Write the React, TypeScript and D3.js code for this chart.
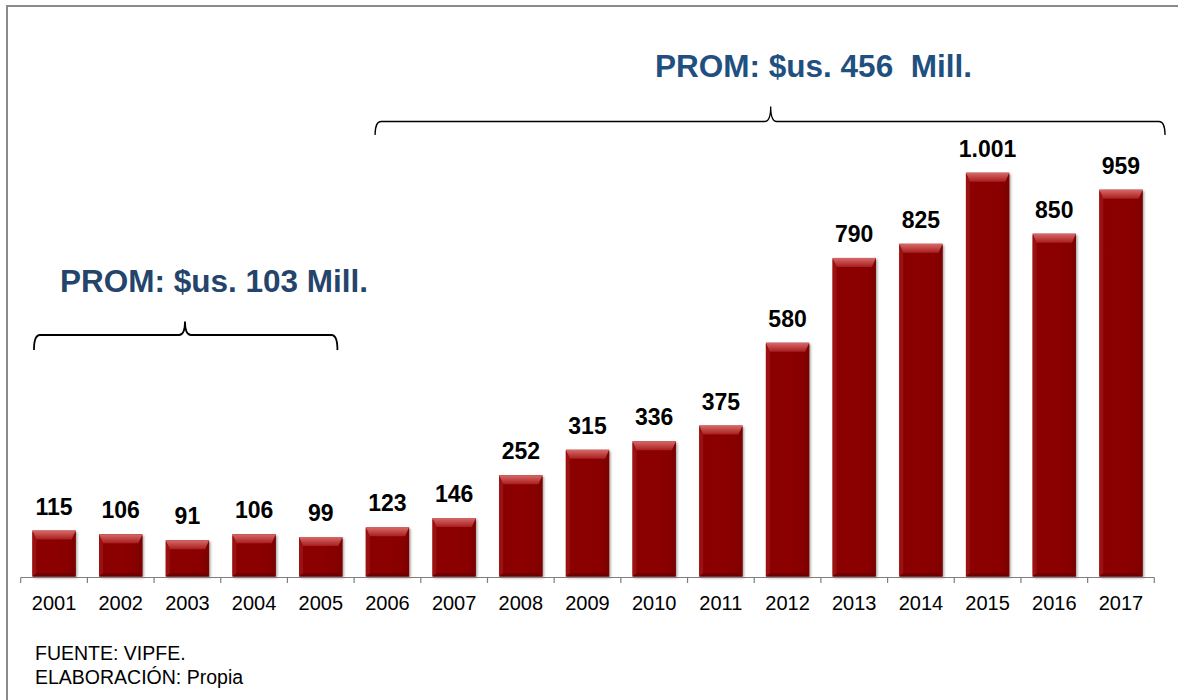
import React from "react";
import * as d3 from "d3";

const years = ["2001","2002","2003","2004","2005","2006","2007","2008","2009","2010","2011","2012","2013","2014","2015","2016","2017"];
const values = [115,106,91,106,99,123,146,252,315,336,375,580,790,825,1001,850,959];
const valueLabels = ["115","106","91","106","99","123","146","252","315","336","375","580","790","825","1.001","850","959"];
const avgLabels = ["PROM: $us. 103 Mill.", "PROM: $us. 456  Mill."];
const avgRanges = [["2001","2005"],["2006","2017"]];
const notes = ["FUENTE: VIPFE.", "ELABORACIÓN: Propia"];

const W = 1178, H = 700;

function bracePath(x1: number, x2: number, yH: number, yEnd: number, yTip: number, xm: number) {
  const r = 6;
  return `M${x1},${yEnd} Q${x1},${yH} ${x1 + r},${yH} L${xm - r},${yH} Q${xm},${yH} ${xm},${yTip} Q${xm},${yH} ${xm + r},${yH} L${x2 - r},${yH} Q${x2},${yH} ${x2},${yEnd}`;
}

export default function App() {
  const x = d3.scaleBand<string>().domain(years).range([20.7, 1154.3]).paddingInner(0.35).paddingOuter(0.175);
  const xb = d3.scaleBand<string>().domain(years).range([20.7, 1154.3]);
  const y = d3.scaleLinear().domain([0, 1001]).range([577, 172.7]);
  const font = "Liberation Sans, Arial, sans-serif";

  const b1 = avgRanges[0], b2 = avgRanges[1];
  const br1x1 = x(b1[0])! + 1.6, br1x2 = x(b1[1])! + x.bandwidth() - 5;
  const br2x1 = x(b2[0])! + 9.3, br2x2 = x(b2[1])! + x.bandwidth() + 22.4;

  return (
    <div style={{ position: "absolute", left: 0, top: 0 }}>
      <svg width={W} height={H} style={{ display: "block", background: "#fff" }}>
        <defs>
          <linearGradient id="topBev" x1="0" y1="0" x2="0" y2="1">
            <stop offset="0%" stopColor="#d86a6a" />
            <stop offset="100%" stopColor="#a81e1e" />
          </linearGradient>
          <linearGradient id="face" x1="0" y1="0" x2="1" y2="0">
            <stop offset="0%" stopColor="#8a0606" />
            <stop offset="50%" stopColor="#8c0303" />
            <stop offset="100%" stopColor="#850404" />
          </linearGradient>
          <filter id="sh" x="-20%" y="-5%" width="140%" height="115%">
            <feDropShadow dx="1.5" dy="1.5" stdDeviation="1.2" floodColor="#000" floodOpacity="0.35" />
          </filter>
        </defs>
        <rect x={7} y={6} width={W + 20} height={H + 20} fill="none" stroke="#8a8a8a" strokeWidth={2} />

        {years.map((yr, i) => {
          const bx = x(yr)!, bw = x.bandwidth();
          const top = y(values[i]), bot = y(0) - 0.5;
          const h = bot - top;
          const b = Math.min(9, h / 3);
          const s = 4;
          return (
            <g key={yr}>
              <rect x={bx} y={top} width={bw} height={h} fill="url(#face)" filter="url(#sh)" />
              <polygon points={`${bx},${top + 1} ${bx + s},${top + b} ${bx + s},${bot - 3} ${bx},${bot}`} fill="#9e1414" opacity={0.85} />
              <polygon points={`${bx + bw},${top + 1} ${bx + bw - s},${top + b} ${bx + bw - s},${bot - 3} ${bx + bw},${bot}`} fill="#7a0202" opacity={0.85} />
              <polygon points={`${bx},${bot} ${bx + s},${bot - 3} ${bx + bw - s},${bot - 3} ${bx + bw},${bot}`} fill="#6a0000" />
              <polygon points={`${bx},${top} ${bx + bw},${top} ${bx + bw - s},${top + b} ${bx + s},${top + b}`} fill="url(#topBev)" />
              <text x={bx + bw / 2} y={top - 16} textAnchor="middle" fontFamily={font} fontWeight="bold" fontSize={23} fill="#000">
                {valueLabels[i]}
              </text>
            </g>
          );
        })}

        <line x1={20.7} x2={1154.3} y1={577.5} y2={577.5} stroke="#7f7f7f" strokeWidth={1.2} />
        {years.concat(["end"]).map((yr, i) => {
          const tx = i < years.length ? xb(yr)! : 1154.3;
          return <line key={"t" + i} x1={tx} x2={tx} y1={577.5} y2={583} stroke="#7f7f7f" strokeWidth={1.2} />;
        })}
        {years.map((yr) => (
          <text key={"l" + yr} x={xb(yr)! + xb.bandwidth() / 2} y={610} textAnchor="middle" fontFamily={font} fontSize={20} fill="#000">
            {yr}
          </text>
        ))}

        <path d={bracePath(br1x1, br1x2, 335, 350, 321.5, 185)} fill="none" stroke="#000" strokeWidth={1.8} />
        <path d={bracePath(br2x1, br2x2, 121.5, 135, 106.5, 770.7)} fill="none" stroke="#000" strokeWidth={1.3} />

        <text x={214} y={291.7} textAnchor="middle" fontFamily={font} fontWeight="bold" fontSize={31.5} fill="#24446b">
          {avgLabels[0]}
        </text>
        <text x={813.5} y={77.3} textAnchor="middle" fontFamily={font} fontWeight="bold" fontSize={31.5} fill="#1f5080" style={{ whiteSpace: "pre" }}>
          {avgLabels[1]}
        </text>

        {notes.map((n, i) => (
          <text key={n} x={35} y={660 + i * 24} fontFamily={font} fontSize={19.5} fill="#000">
            {n}
          </text>
        ))}
      </svg>
    </div>
  );
}
